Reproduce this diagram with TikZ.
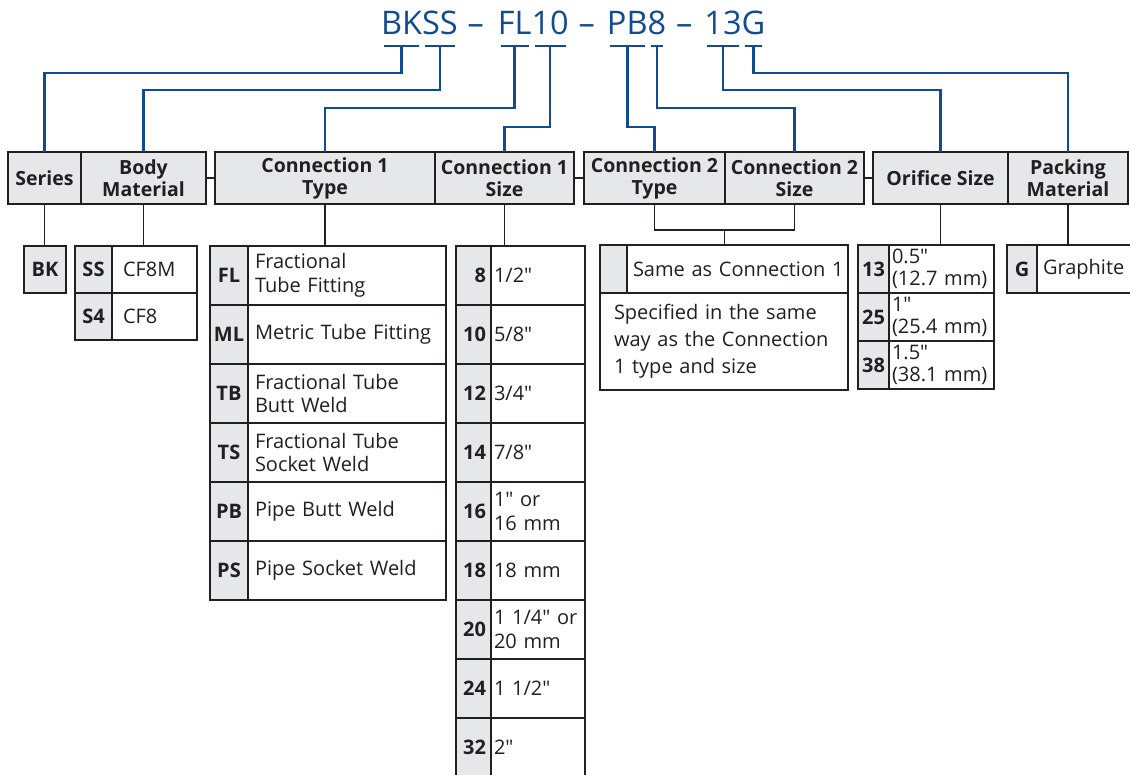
\documentclass[tikz,border=0pt]{standalone}
\usepackage{fontspec}
\setmainfont{Open Sans}[Ligatures=TeXOff]
\usepackage{xcolor}
\definecolor{lblue}{RGB}{19,75,145}
\definecolor{cellgray}{RGB}{230,231,232}
\definecolor{ink}{RGB}{35,31,32}
\usetikzlibrary{calc, positioning}

\begin{document}
\begin{tikzpicture}[x=1pt,y=-1pt,
        every node/.style={text=ink,outer sep=0pt},
        lead/.style={draw=lblue,line width=2.6pt},
        con/.style={draw=ink,line width=1.4pt}]
        \tikzstyle{hd}=[draw=ink,line width=1.4pt,fill=cellgray,anchor=north west,align=center,inner sep=0pt,minimum height=52pt,font=\fontsize{19.5}{22}\selectfont\bfseries]
        \tikzstyle{cd}=[draw=ink,line width=1.4pt,fill=cellgray,anchor=north west,align=center,inner sep=0pt,font=\fontsize{20}{22}\selectfont\bfseries]
        \tikzstyle{ds}=[draw=ink,line width=1.4pt,fill=white,anchor=north west,align=left,inner ysep=0pt,font=\fontsize{20}{23.5}\selectfont]
        \tikzstyle{ttl}=[text=lblue,inner xsep=0pt,inner ysep=11pt,text depth=0pt,font=\fontsize{32.5}{32}\selectfont]
        \tikzstyle{tcode}=[cd,minimum width=38pt,minimum height=59pt]
        \tikzstyle{tdesc}=[ds,text width=184pt,inner xsep=7pt,minimum height=59pt]
        \tikzstyle{scode}=[cd,align=right,text width=25pt,inner xsep=5pt,minimum height=59pt]
        \tikzstyle{sdesc}=[ds,text width=88pt,inner xsep=3pt,minimum height=59pt]
        \tikzstyle{ocode}=[cd,minimum width=31pt,minimum height=48pt]
        \tikzstyle{odesc}=[ds,text width=99pt,inner xsep=3pt,minimum height=48pt,font=\fontsize{20}{22}\selectfont]
        \useasboundingbox[fill=white] (0,0) rectangle (1130,775);

        \node[ttl,anchor=base west] (tBK) at (381,35) {BK};
        \node[ttl,base right=0pt of tBK] (tSS) {SS};
        \node[ttl,base right=10pt of tSS] (tD1) {–};
        \node[ttl,base right=14pt of tD1] (tFL) {FL};
        \node[ttl,base right=0pt of tFL] (t10) {10};
        \node[ttl,base right=10pt of t10] (tD2) {–};
        \node[ttl,base right=12pt of tD2] (tPB) {PB};
        \node[ttl,base right=0pt of tPB] (t8) {8};
        \node[ttl,base right=10pt of t8] (tD3) {–};
        \node[ttl,base right=12pt of tD3] (t13) {13};
        \node[ttl,base right=0pt of t13] (tG) {G};

        \node[hd,minimum width=73pt] (series) at (8,152) {Series};
        \node[hd,minimum width=125pt,right=0pt of series] (bm) {Body\\Material};
        \node[hd,minimum width=220pt] (c1t) at (215,152) {Connection 1\\Type};
        \node[hd,minimum width=139pt,right=0pt of c1t] (c1s) {Connection 1\\Size};
        \node[hd,minimum width=141pt] (c2t) at (584,152) {Connection 2\\Type};
        \node[hd,minimum width=139pt,right=0pt of c2t] (c2s) {Connection 2\\Size};
        \node[hd,minimum width=135pt] (orf) at (873,152) {Orifice Size};
        \node[hd,minimum width=120pt,right=0pt of orf] (pack) {Packing\\Material};

        \draw[lead] ($(tBK.south west)+(3,0)$) -- ($(tBK.south east)+(-3,0)$);
        \draw[lead] ($(tSS.south west)+(3,0)$) -- ($(tSS.south east)+(-3,0)$);
        \draw[lead] ($(tFL.south west)+(3,0)$) -- ($(tFL.south east)+(-3,0)$);
        \draw[lead] ($(t10.south west)+(3,0)$) -- ($(t10.south east)+(-3,0)$);
        \draw[lead] ($(tPB.south west)+(3,0)$) -- ($(tPB.south east)+(-3,0)$);
        \draw[lead] ($(t8.south west)+(3,0)$) -- ($(t8.south east)+(-3,0)$);
        \draw[lead] ($(t13.south west)+(3,0)$) -- ($(t13.south east)+(-3,0)$);
        \draw[lead] ($(tG.south west)+(3,0)$) -- ($(tG.south east)+(-3,0)$);
        \draw[lead] (tBK.south) -- ++(0,27) -| (series.north);
        \draw[lead] (tSS.south) -- ++(0,44) -| (bm.north);
        \draw[lead] (tFL.south) -- ++(0,62) -| (c1t.north);
        \draw[lead] (t10.south) -- ++(0,81) -| (c1s.north);
        \draw[lead] (tPB.south) -- ++(0,81) -| (c2t.north);
        \draw[lead] (t8.south) -- ++(0,62) -| (c2s.north);
        \draw[lead] (t13.south) -- ++(0,44) -| (orf.north);
        \draw[lead] (tG.south) -- ++(0,27) -| (pack.north);

        \draw[con] (bm.east) -- (c1t.west);
        \draw[con] (c1s.east) -- (c2t.west);
        \draw[con] (c2s.east) -- (orf.west);

        \node[cd,minimum width=42pt,minimum height=47pt] (bk) at (24,246) {BK};

        \node[cd,minimum width=37pt,minimum height=47pt] (ss) at (75,246) {SS};
        \node[ds,text width=63pt,inner xsep=11pt,minimum height=47pt,right=0pt of ss] (cf8m) {CF8M};
        \node[cd,minimum width=37pt,minimum height=47pt,below=0pt of ss] (s4) {S4};
        \node[ds,text width=63pt,inner xsep=11pt,minimum height=47pt,right=0pt of s4] (cf8) {CF8};

        \node[tcode] (fl) at (210,246) {FL};
        \node[tdesc,right=0pt of fl] (flT) {Fractional\\Tube Fitting};
        \node[tcode,below=0pt of fl] (ml) {ML};
        \node[tdesc,right=0pt of ml] (mlT) {Metric Tube Fitting};
        \node[tcode,below=0pt of ml] (tb) {TB};
        \node[tdesc,right=0pt of tb] (tbT) {Fractional Tube\\Butt Weld};
        \node[tcode,below=0pt of tb] (ts) {TS};
        \node[tdesc,right=0pt of ts] (tsT) {Fractional Tube\\Socket Weld};
        \node[tcode,below=0pt of ts] (pb) {PB};
        \node[tdesc,right=0pt of pb] (pbT) {Pipe Butt Weld};
        \node[tcode,below=0pt of pb] (ps) {PS};
        \node[tdesc,right=0pt of ps] (psT) {Pipe Socket Weld};

        \node[scode] (s8) at (456,246) {8};
        \node[sdesc,right=0pt of s8] (s8T) {1/2"};
        \node[scode,below=0pt of s8] (s10) {10};
        \node[sdesc,right=0pt of s10] (s10T) {5/8"};
        \node[scode,below=0pt of s10] (s12) {12};
        \node[sdesc,right=0pt of s12] (s12T) {3/4"};
        \node[scode,below=0pt of s12] (s14) {14};
        \node[sdesc,right=0pt of s14] (s14T) {7/8"};
        \node[scode,below=0pt of s14] (s16) {16};
        \node[sdesc,right=0pt of s16] (s16T) {1" or\\16 mm};
        \node[scode,below=0pt of s16] (s18) {18};
        \node[sdesc,right=0pt of s18] (s18T) {18 mm};
        \node[scode,below=0pt of s18] (s20) {20};
        \node[sdesc,right=0pt of s20] (s20T) {1 1/4" or\\20 mm};
        \node[scode,below=0pt of s20] (s24) {24};
        \node[sdesc,right=0pt of s24] (s24T) {1 1/2"};
        \node[scode,below=0pt of s24] (s32) {32};
        \node[sdesc,right=0pt of s32] (s32T) {2"};

        \node[cd,minimum width=27pt,minimum height=48pt] (c2blank) at (600,245) {};
        \node[ds,text width=215pt,inner xsep=3pt,minimum height=48pt,right=0pt of c2blank] (c2same) {\hspace*{3pt}Same as Connection 1};
        \node[ds,text width=220pt,inner xsep=14pt,minimum height=97pt,font=\fontsize{20}{27}\selectfont] (c2spec) at (c2blank.south west) {Specified in the same\\way as the Connection\\1 type and size};

        \node[ocode] (o13) at (858,245) {13};
        \node[odesc,right=0pt of o13] (o13T) {0.5"\\(12.7 mm)};
        \node[ocode,below=0pt of o13] (o25) {25};
        \node[odesc,right=0pt of o25] (o25T) {1"\\(25.4 mm)};
        \node[ocode,below=0pt of o25] (o38) {38};
        \node[odesc,right=0pt of o38] (o38T) {1.5"\\(38.1 mm)};

        \node[cd,minimum width=30pt,minimum height=48pt] (g) at (1007,245) {G};
        \node[ds,text width=100pt,inner xsep=6pt,minimum height=48pt,right=0pt of g] (gT) {Graphite};

        \draw[con] (series.south) -- (series.south |- bk.north);
        \draw[con] (bm.south) -- (bm.south |- ss.north);
        \draw[con] (c1t.south) -- (c1t.south |- fl.north);
        \draw[con] (c1s.south) -- (c1s.south |- s8.north);
        \coordinate (c2mid) at ($(c2t.south)!0.5!(c2s.south)+(0,26)$);
        \draw[con] (c2t.south) |- (c2mid) -| (c2s.south);
        \draw[con] (c2mid) -- (c2mid |- c2same.north);
        \draw[con] (orf.south) -- (orf.south |- o13.north);
        \draw[con] (pack.south) -- (pack.south |- g.north);
\end{tikzpicture}
\end{document}
